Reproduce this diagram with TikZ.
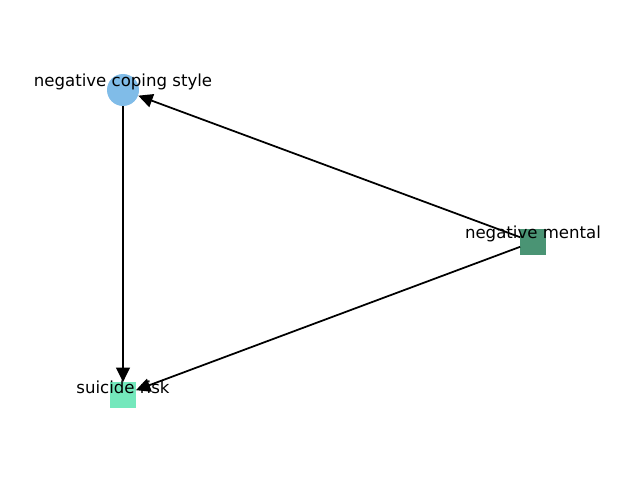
\documentclass[tikz,border=0pt]{standalone}
\usepackage{fontspec}
\setmainfont{DejaVu Sans}
\usetikzlibrary{arrows.meta, positioning}
\definecolor{copeblue}{HTML}{80BCE8}
\definecolor{mentgreen}{HTML}{4A9474}
\definecolor{riskgreen}{HTML}{74E8BC}

\begin{document}
\begin{tikzpicture}[font=\fontsize{11.8}{14}\selectfont, >={Triangle[length=0.36cm, width=0.34cm]},
    cnode/.style={circle, fill=copeblue, minimum size=0.8cm, inner sep=0pt},
    snode/.style={rectangle, minimum size=0.63cm, inner sep=0pt},
    lbl/.style={label={[yshift=0.2cm]center:#1}},
    edge/.style={->, line width=1.25pt, black},
  ]
    \useasboundingbox (0,0) rectangle (16,12);
    \node[cnode, lbl={negative coping style}] (cope) at (3.075, 9.75) {};
    \node[snode, fill=mentgreen, lbl={negative mental}] (ment) at (13.325, 5.95) {};
    \node[snode, fill=riskgreen, lbl={suicide risk}] (risk) at (3.075, 2.125) {};
    \draw[edge] (cope) -- (risk);
    \draw[edge] (ment) -- (cope);
    \draw[edge] (ment) -- (risk);
  \end{tikzpicture}
\end{document}
